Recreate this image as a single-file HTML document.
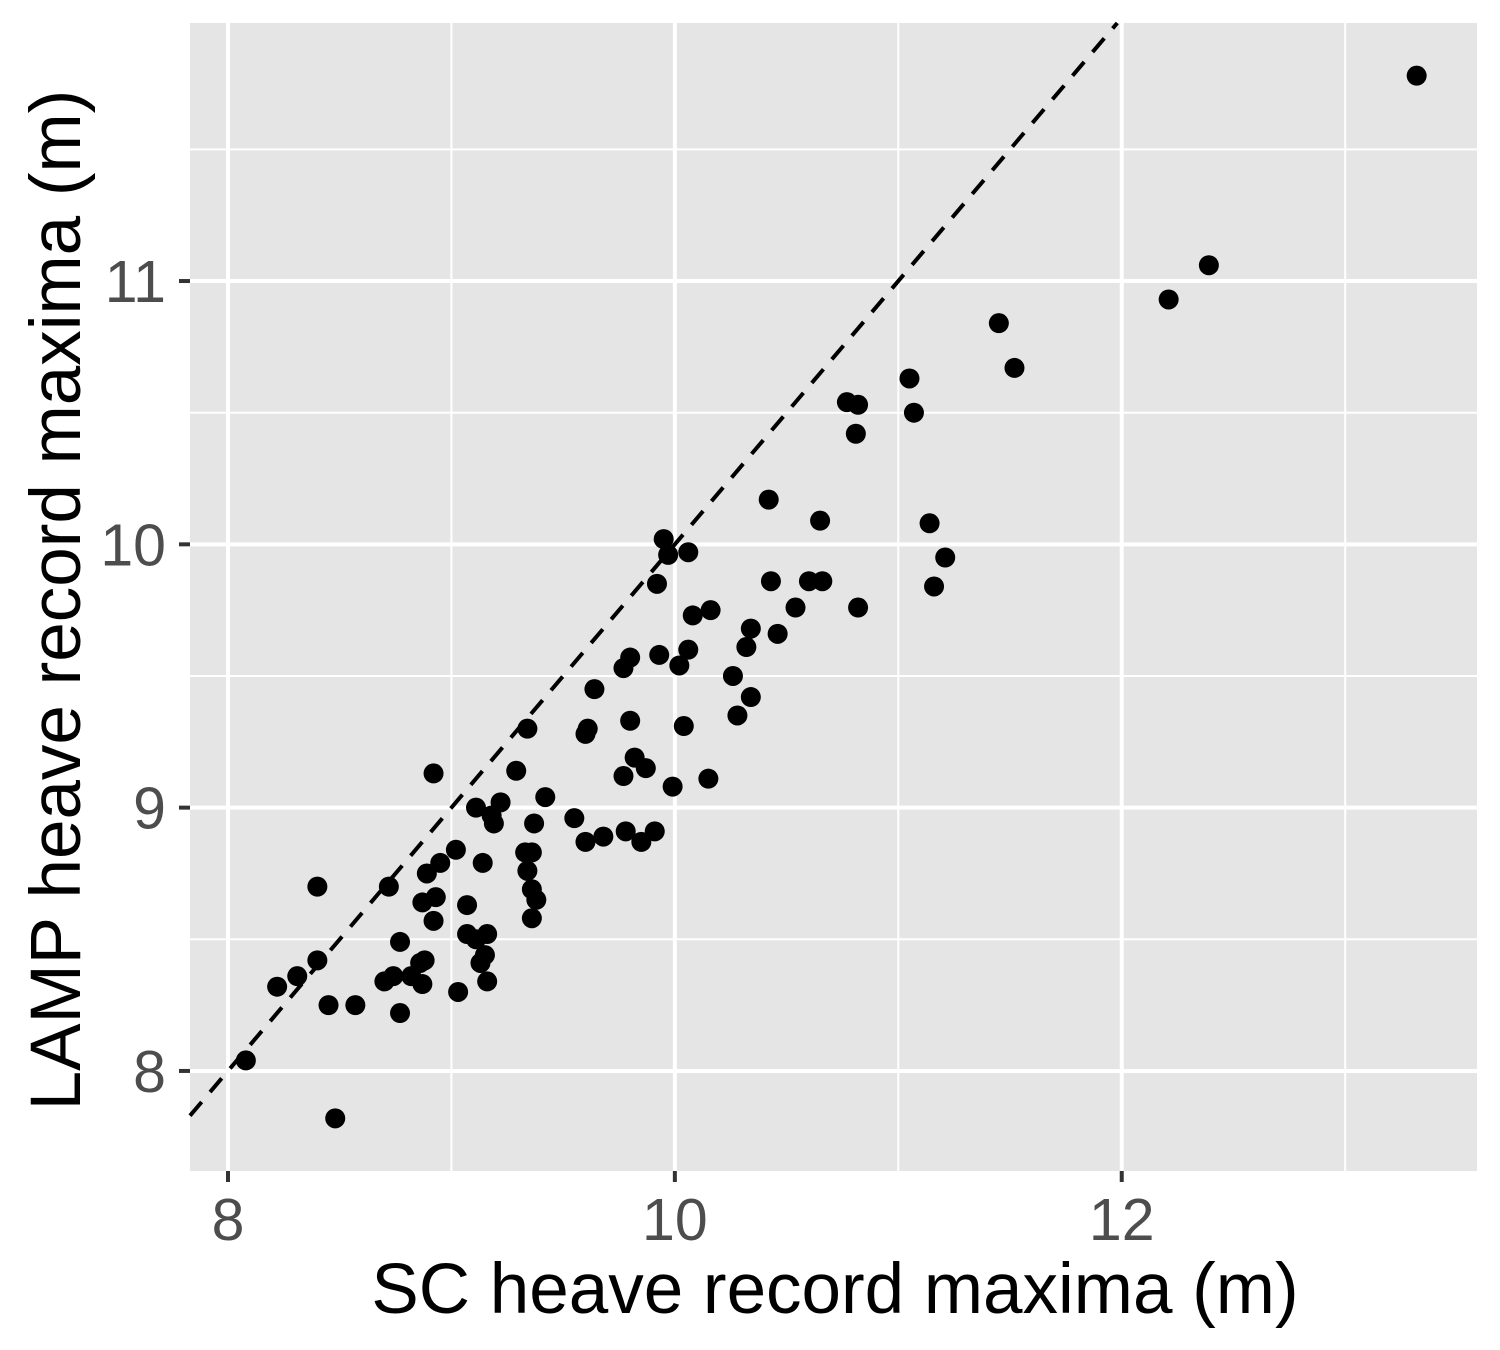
<!DOCTYPE html>
<html><head><meta charset="utf-8"><style>
html,body{margin:0;padding:0;background:#fff;}
svg{display:block;font-family:"Liberation Sans",sans-serif;}
</style></head><body>
<svg id="chart" width="1500" height="1350" viewBox="0 0 1500 1350">
<rect x="190" y="23" width="1287" height="1148" fill="#e5e5e5"/>
<g id="grid"></g>
<g id="marks"></g>
<g id="axes"></g>
<text x="835" y="1313" text-anchor="middle" font-size="71" fill="#000">SC heave record maxima (m)</text>
<text transform="translate(80,600) rotate(-90)" text-anchor="middle" font-size="71" fill="#000">LAMP heave record maxima (m)</text>
</svg>
<script>
const scX = [13.32,12.39,12.21,11.45,11.52,11.05,10.77,10.82,11.07,10.81,10.42,10.65,11.14,9.95,10.06,9.97,11.21,9.92,10.43,10.60,10.66,11.16,10.16,10.08,10.54,10.82,10.34,10.32,10.46,9.93,9.80,10.06,10.02,9.77,10.26,9.64,10.34,10.28,9.80,9.34,9.61,9.60,10.04,9.29,8.92,9.82,9.87,9.77,10.15,9.99,9.42,9.22,9.11,9.18,9.19,9.37,9.55,9.78,9.68,9.91,9.60,9.85,9.02,9.33,9.36,9.14,8.95,9.34,8.40,8.72,8.89,9.36,8.93,8.87,9.07,9.38,8.92,9.36,9.07,9.11,9.16,8.77,9.15,8.88,9.13,8.86,8.40,8.31,8.22,8.74,8.70,8.82,8.87,9.16,9.03,8.45,8.57,8.77,8.08,8.48];
const lampY = [11.78,11.06,10.93,10.84,10.67,10.63,10.54,10.53,10.50,10.42,10.17,10.09,10.08,10.02,9.97,9.96,9.95,9.85,9.86,9.86,9.86,9.84,9.75,9.73,9.76,9.76,9.68,9.61,9.66,9.58,9.57,9.60,9.54,9.53,9.50,9.45,9.42,9.35,9.33,9.30,9.30,9.28,9.31,9.14,9.13,9.19,9.15,9.12,9.11,9.08,9.04,9.02,9.00,8.97,8.94,8.94,8.96,8.91,8.89,8.91,8.87,8.87,8.84,8.83,8.83,8.79,8.79,8.76,8.70,8.70,8.75,8.69,8.66,8.64,8.63,8.65,8.57,8.58,8.52,8.50,8.52,8.49,8.44,8.42,8.41,8.41,8.42,8.36,8.32,8.36,8.34,8.36,8.33,8.34,8.30,8.25,8.25,8.22,8.04,7.82];
const xTicks = [8,10,12];
const xMinor = [9,11,13];
const yTicks = [8,9,10,11];
const yMinor = [8.5,9.5,10.5,11.5];
const xDomain = [7.83,13.59], yDomain = [7.62,11.98];
const L=190,R=1477,T=23,B=1171;
const NS="http://www.w3.org/2000/svg";
const sx=v=>L+(v-xDomain[0])/(xDomain[1]-xDomain[0])*(R-L);
const sy=v=>B-(v-yDomain[0])/(yDomain[1]-yDomain[0])*(B-T);
function mk(tag,attrs,parent){const e=document.createElementNS(NS,tag);for(const k in attrs)e.setAttribute(k,attrs[k]);parent.appendChild(e);return e;}
const grid=document.getElementById('grid'),marks=document.getElementById('marks'),axes=document.getElementById('axes');
xMinor.forEach(v=>{const e=mk('line',{x1:sx(v),x2:sx(v),y1:T,y2:B,stroke:'#fff','stroke-width':2},grid);

});
yMinor.forEach(v=>{const e=mk('line',{x1:L,x2:R,y1:sy(v),y2:sy(v),stroke:'#fff','stroke-width':2},grid);

});
xTicks.forEach(v=>{const e=mk('line',{x1:sx(v),x2:sx(v),y1:T,y2:B,stroke:'#fff','stroke-width':4},grid);


const t=mk('line',{x1:sx(v),x2:sx(v),y1:B,y2:B+11,stroke:'#333','stroke-width':4},axes);


const l=mk('text',{x:sx(v),y:1240,'text-anchor':'middle','font-size':59,fill:'#4d4d4d'},axes);l.textContent=v;

});
yTicks.forEach(v=>{const e=mk('line',{x1:L,x2:R,y1:sy(v),y2:sy(v),stroke:'#fff','stroke-width':4},grid);


const t=mk('line',{x1:L-11,x2:L,y1:sy(v),y2:sy(v),stroke:'#333','stroke-width':4},axes);


const l=mk('text',{x:166,y:sy(v)+21,'text-anchor':'end','font-size':59,fill:'#4d4d4d'},axes);l.textContent=v;

});
const lo=Math.max(xDomain[0],yDomain[0]),hi=Math.min(xDomain[1],yDomain[1]);
const dl=mk('line',{x1:sx(lo),y1:sy(lo),x2:sx(hi),y2:sy(hi),stroke:'#000','stroke-width':4,'stroke-dasharray':'18 13'},marks);


scX.forEach((x,i)=>{const c=mk('circle',{cx:sx(x),cy:sy(lampY[i]),r:10,fill:'#000'},marks);

});
</script>
</body></html>
